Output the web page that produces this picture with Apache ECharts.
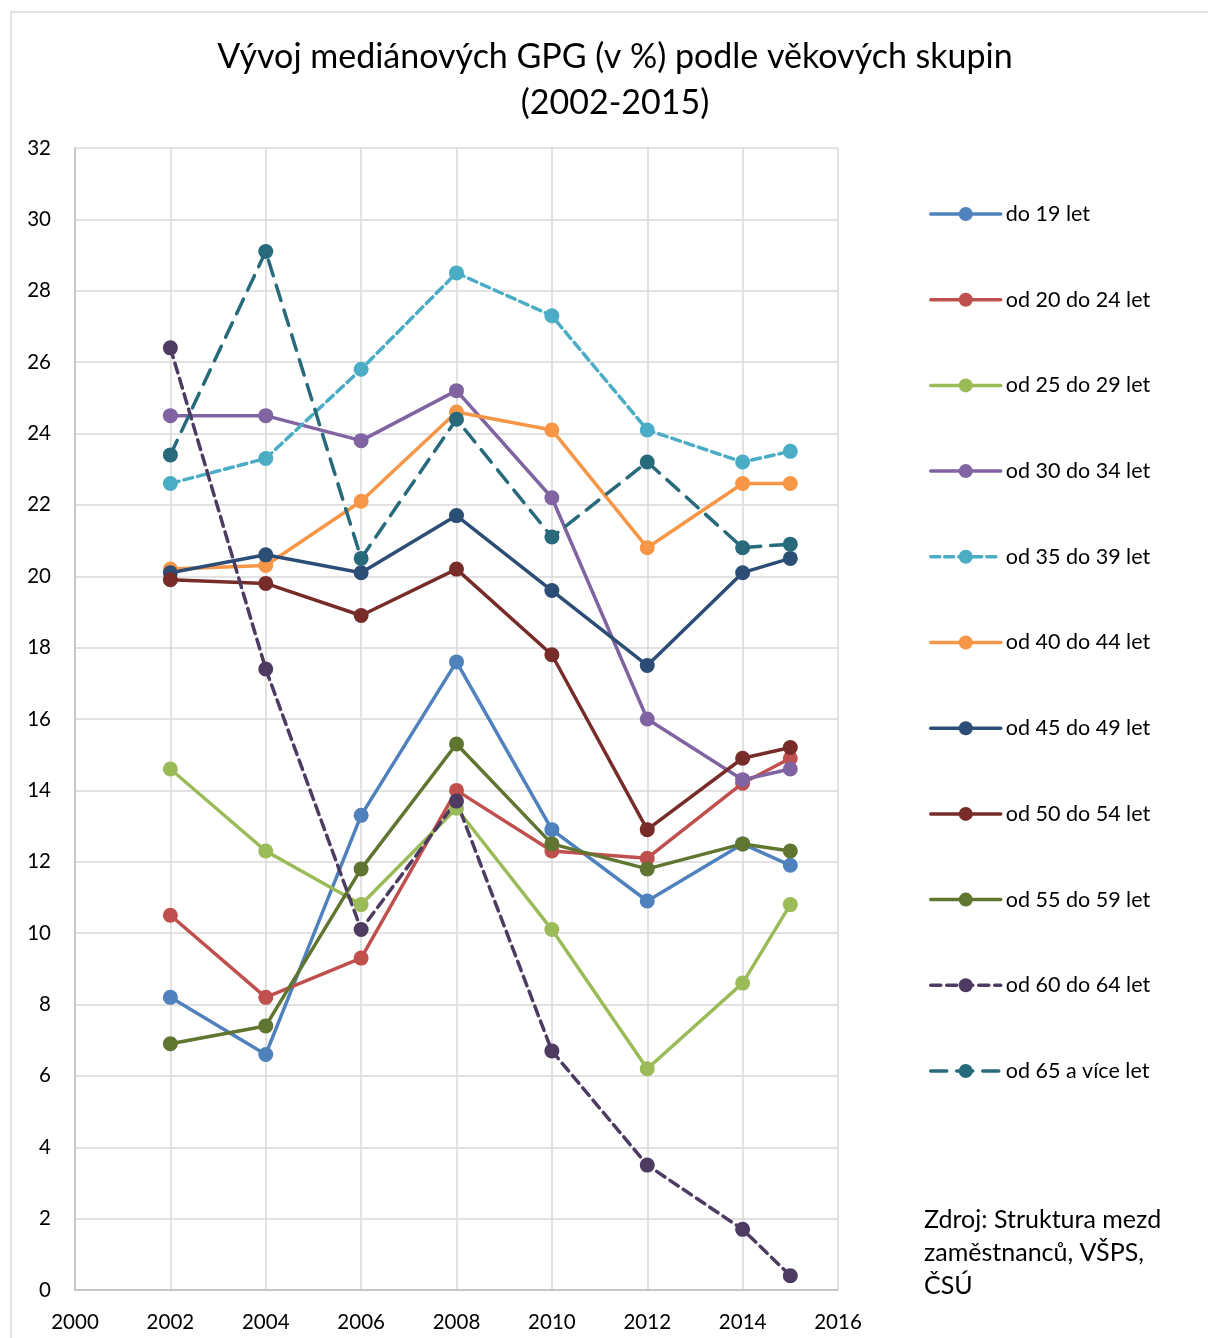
<!DOCTYPE html>
<html>
<head>
<meta charset="utf-8">
<script src="https://cdn.jsdelivr.net/npm/echarts@6/dist/echarts.min.js"></script>
<style>
  html, body { margin: 0; padding: 0; background: #fff; }
  #main { width: 1208px; height: 1338px; }
</style>
</head>
<body>
<div id="main"></div>
<script>
  const years = [2002, 2004, 2006, 2008, 2010, 2012, 2014, 2015];
  const groupNames = [
    "do 19 let", "od 20 do 24 let", "od 25 do 29 let", "od 30 do 34 let",
    "od 35 do 39 let", "od 40 do 44 let", "od 45 do 49 let", "od 50 do 54 let",
    "od 55 do 59 let", "od 60 do 64 let", "od 65 a více let",
  ];
  const do19 = [8.2, 6.6, 13.3, 17.6, 12.9, 10.9, 12.5, 11.9];
  const od20 = [10.5, 8.2, 9.3, 14.0, 12.3, 12.1, 14.2, 14.9];
  const od25 = [14.6, 12.3, 10.8, 13.5, 10.1, 6.2, 8.6, 10.8];
  const od30 = [24.5, 24.5, 23.8, 25.2, 22.2, 16.0, 14.3, 14.6];
  const od35 = [22.6, 23.3, 25.8, 28.5, 27.3, 24.1, 23.2, 23.5];
  const od40 = [20.2, 20.3, 22.1, 24.6, 24.1, 20.8, 22.6, 22.6];
  const od45 = [20.1, 20.6, 20.1, 21.7, 19.6, 17.5, 20.1, 20.5];
  const od50 = [19.9, 19.8, 18.9, 20.2, 17.8, 12.9, 14.9, 15.2];
  const od55 = [6.9, 7.4, 11.8, 15.3, 12.5, 11.8, 12.5, 12.3];
  const od60 = [26.4, 17.4, 10.1, 13.7, 6.7, 3.5, 1.7, 0.4];
  const od65 = [23.4, 29.1, 20.5, 24.4, 21.1, 23.2, 20.8, 20.9];
  const seriesValues = [do19, od20, od25, od30, od35, od40, od45, od50, od55, od60, od65];

  const colors = ["#4F81BD", "#C0504D", "#9BBB59", "#8064A2", "#4BACC6", "#F79646",
                  "#2C4D75", "#772C2A", "#5F7530", "#4D3B62", "#276A7C"];
  const dashes = { 4: [9, 5], 9: [10, 6], 10: [16, 10] };

  const font = "Lato, 'Open Sans', sans-serif";
  const chart = echarts.init(document.getElementById("main"));

  chart.setOption({
    animation: false,
    color: colors,
    textStyle: { fontFamily: font, color: "#000" },
    graphic: [
      {
        type: "rect", silent: true,
        shape: { x: 11, y: 12, width: 1250, height: 1400 },
        style: { fill: "none", stroke: "#d9d9d9", lineWidth: 1.5 },
      },
      {
        type: "text", silent: true,
        style: {
          x: 615, y: 57, text: "Vývoj mediánových GPG (v %) podle věkových skupin\n(2002-2015)",
          font: "34px " + font, fill: "#000", align: "center", verticalAlign: "middle", lineHeight: 46,
        },
        y: 23,
      },
      {
        type: "text", silent: true,
        style: {
          x: 924, y: 1203, text: "Zdroj: Struktura mezd\nzaměstnanců, VŠPS,\nČSÚ",
          font: "25px " + font, fill: "#000", lineHeight: 33,
        },
      },
    ],
    legend: {
      orient: "vertical",
      left: 924,
      top: 198,
      itemWidth: 70,
      itemHeight: 17.5,
      itemGap: 63.7,
      lineStyle: { width: 3.5 },
      textStyle: { fontSize: 21.5, lineHeight: 20, color: "#000", fontFamily: font },
      data: groupNames,
    },
    grid: { left: 75, right: 370, top: 148, bottom: 48 },
    xAxis: {
      type: "value",
      min: 2000, max: 2016, interval: 2,
      axisLine: { lineStyle: { color: "#bfbfbf", width: 1.5 } },
      axisTick: { show: false },
      axisLabel: { fontSize: 20.5, color: "#000", margin: 22, formatter: (v) => String(v) },
      splitLine: { show: true, lineStyle: { color: "#d9d9d9", width: 1.5 } },
    },
    yAxis: {
      type: "value",
      min: 0, max: 32, interval: 2,
      axisLine: { show: true, lineStyle: { color: "#bfbfbf", width: 1.5 } },
      axisTick: { show: false },
      axisLabel: { fontSize: 20.5, color: "#000", margin: 24 },
      splitLine: { lineStyle: { color: "#d9d9d9", width: 1.5 } },
    },
    series: groupNames.map((name, i) => ({
      name: name,
      type: "line",
      data: years.map((y, j) => [y, seriesValues[i][j]]),
      symbol: "circle",
      symbolSize: 15,
      lineStyle: { width: 3.5, type: dashes[i] || "solid", cap: "round" },
      itemStyle: { color: colors[i] },
    })),
  });
</script>
</body>
</html>
